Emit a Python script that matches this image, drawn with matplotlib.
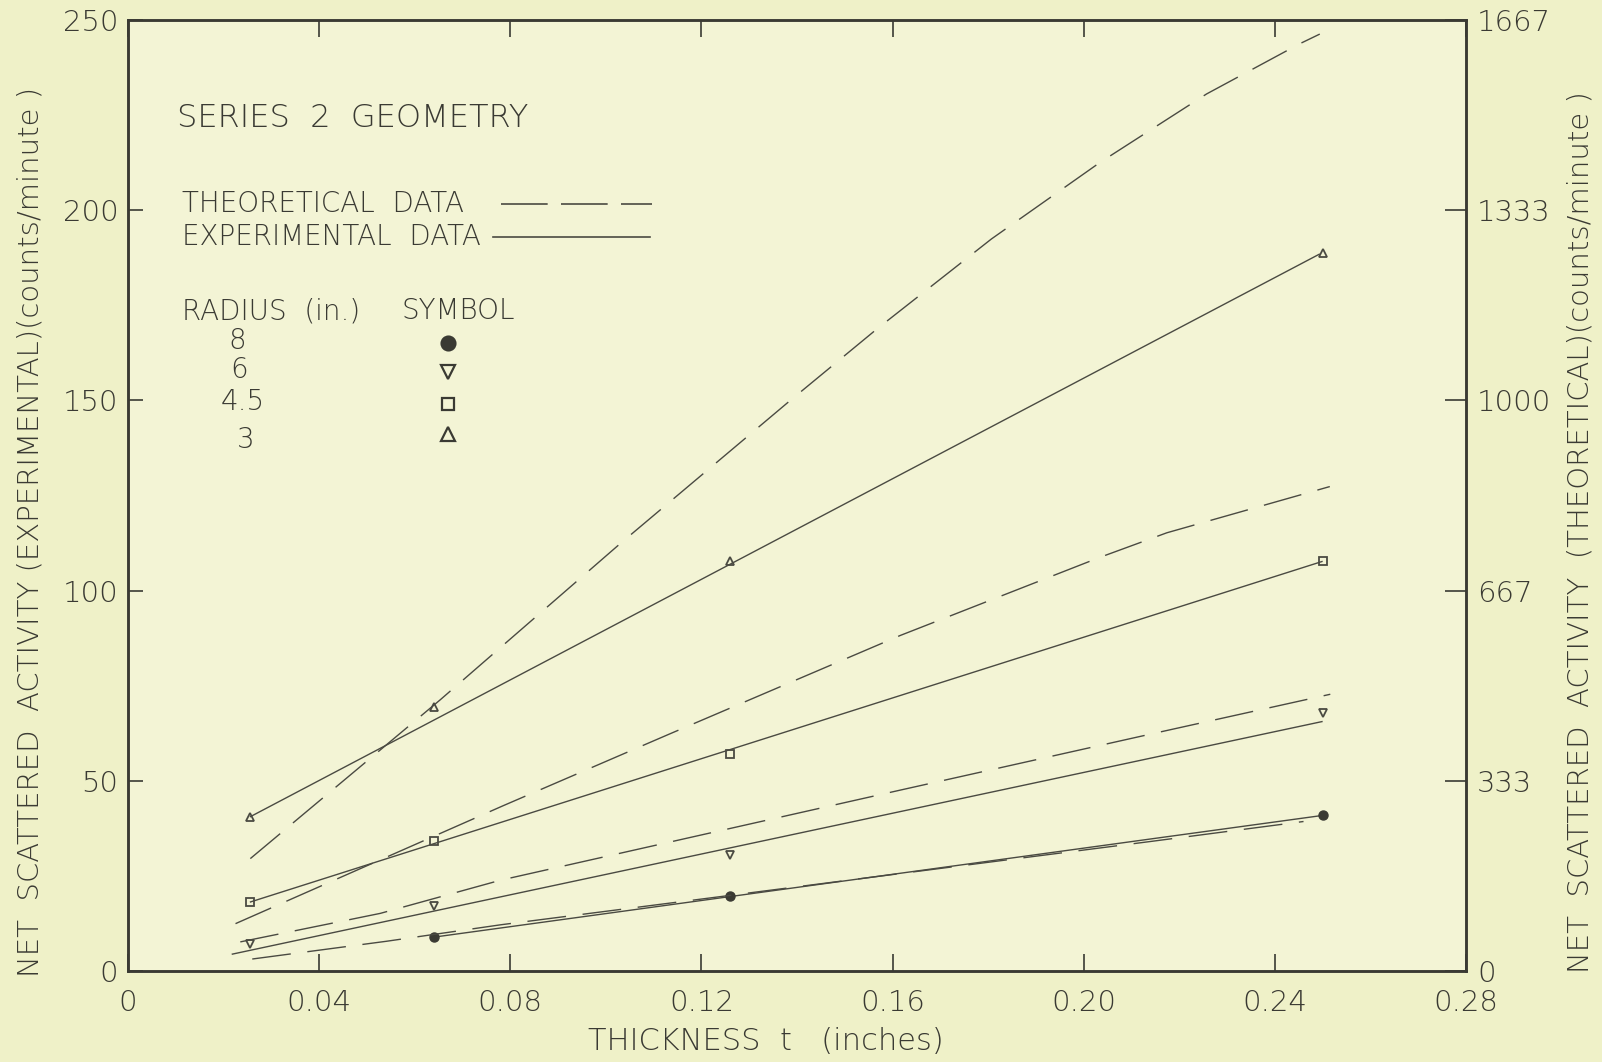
import matplotlib
matplotlib.use('Agg')
import matplotlib.pyplot as plt
import numpy as np

# ---------------- data ----------------
thickness = [0.0255, 0.064, 0.126, 0.25]          # inches
exp_r3 = [40.5, 69.4, 107.9, 188.8]                # counts/min (experimental)
exp_r45 = [18.1, 34.3, 57.1, 107.7]
exp_r6 = [7.0, 17.2, 30.5, 67.7]
exp_r8 = [np.nan, 8.9, 19.8, 40.9]

# experimental fitted straight lines (end points)
fit_r3_x, fit_r3_y = [0.0255, 0.2494], [40.5, 188.5]
fit_r45_x, fit_r45_y = [0.0255, 0.25], [18.1, 107.7]
fit_r6_x, fit_r6_y = [0.0217, 0.25], [4.4, 65.6]
fit_r8_x, fit_r8_y = [0.064, 0.25], [8.9, 40.9]

# theoretical curves (counts/min, right axis)
th_r3_x = [0.0256, 0.0653, 0.1030, 0.1386, 0.1567, 0.1807, 0.2034, 0.2257, 0.2452, 0.2494]
th_r3_y = [197, 475, 749, 1000, 1125, 1283, 1417, 1537, 1625, 1642]
th_r45_x = [0.0225, 0.0786, 0.1135, 0.1616, 0.2034, 0.2174, 0.2515]
th_r45_y = [83, 290, 416, 588, 725, 768, 849]
th_r6_x = [0.0235, 0.0528, 0.0779, 0.1616, 0.2139, 0.2516]
th_r6_y = [51, 101, 159, 317, 415, 485]
th_r8_x = [0.026, 0.054, 0.078, 0.214, 0.246]
th_r8_y = [21, 52, 81, 227, 262]

x_ticks = [0, 0.04, 0.08, 0.12, 0.16, 0.20, 0.24, 0.28]
x_ticklabels = ["0", "0.04", "0.08", "0.12", "0.16", "0.20", "0.24", "0.28"]
y_ticks = [0, 50, 100, 150, 200, 250]
y_ticklabels = ["0", "50", "100", "150", "200", "250"]
y2_ticks = [0, 1000 / 3, 2000 / 3, 1000, 4000 / 3, 5000 / 3]
y2_ticklabels = ["0", "333", "667", "1000", "1333", "1667"]

radius_labels = ["8", "6", "4.5", "3"]

# ---------------- style ----------------
INK = '#3a3a33'
LINE = '#4a4a42'
BG = '#f3f4d5'
FIG_BG = '#eff1c8'
FONT = 'DejaVu Sans'
W = 200  # extra light

plt.rcParams['font.family'] = [FONT]
plt.rcParams['font.weight'] = W

fig = plt.figure(figsize=(16.02, 10.62), dpi=100, facecolor=FIG_BG)
ax = fig.add_axes([128 / 1602, 91 / 1062, 1338 / 1602, 951 / 1062])
ax.set_facecolor(BG)
ax2 = ax.twinx()
ax2.patch.set_visible(False)

lw = 1.0
# experimental fit lines
for fx, fy in [(fit_r3_x, fit_r3_y), (fit_r45_x, fit_r45_y),
               (fit_r6_x, fit_r6_y), (fit_r8_x, fit_r8_y)]:
    ax.plot(fx, fy, color=LINE, lw=lw, solid_capstyle='butt', zorder=3)

# experimental markers
ms = 6
ax.plot(thickness, exp_r3, linestyle='none', marker='^', ms=ms, mfc='none',
        mec=LINE, mew=1.3, zorder=4)
ax.plot(thickness, exp_r45, linestyle='none', marker='s', ms=ms - 0.5, mfc='none',
        mec=LINE, mew=1.3, zorder=4)
ax.plot(thickness, exp_r6, linestyle='none', marker='v', ms=ms, mfc='none',
        mec=LINE, mew=1.3, zorder=4)
ax.plot(thickness, exp_r8, linestyle='none', marker='o', ms=ms + 0.5, mfc=INK,
        mec=INK, zorder=4)

# theoretical dashed curves on right axis
for tx, ty in [(th_r3_x, th_r3_y), (th_r45_x, th_r45_y),
               (th_r6_x, th_r6_y), (th_r8_x, th_r8_y)]:
    ax2.plot(tx, ty, color=LINE, lw=lw, dashes=(28, 12), dash_capstyle='butt', zorder=3)

# axes limits / ticks
ax.set_xlim(0, 0.28)
ax.set_ylim(0, 250)
ax2.set_ylim(0, 5000 / 3)

ax.set_xticks(x_ticks)
ax.set_xticklabels(x_ticklabels)
ax.set_yticks(y_ticks)
ax.set_yticklabels(y_ticklabels)
ax2.set_yticks(y2_ticks)
ax2.set_yticklabels(y2_ticklabels)

tick_fs = 21
ax.tick_params(axis='x', which='major', direction='in', length=12, width=1.2,
               colors=INK, labelsize=tick_fs, pad=13, top=True, labeltop=False)
ax.tick_params(axis='y', which='major', direction='in', length=11, width=1.2,
               colors=INK, labelsize=tick_fs, pad=7, right=False)
ax2.tick_params(axis='y', which='major', direction='in', length=15, width=1.2,
                colors=INK, labelsize=tick_fs, pad=8)
for lab in ax.get_xticklabels() + ax.get_yticklabels() + ax2.get_yticklabels():
    lab.set_fontweight(W)

for a in (ax, ax2):
    for s in a.spines.values():
        s.set_color(INK)
        s.set_linewidth(1.8)

# axis labels
fig.text(766 / 1602, 1 - 1042 / 1062, "THICKNESS  t   (inches)",
         ha='center', va='center', fontsize=22, color=INK, fontweight=W)
fig.text(31 / 1602, 1 - 532 / 1062,
         "NET  SCATTERED  ACTIVITY (EXPERIMENTAL)(counts/minute )",
         rotation=90, ha='center', va='center', fontsize=21, color=INK, fontweight=W)
fig.text(1581 / 1602, 1 - 532 / 1062,
         "NET  SCATTERED  ACTIVITY  (THEORETICAL)(counts/minute )",
         rotation=90, ha='center', va='center', fontsize=21, color=INK, fontweight=W)

# annotation / legend block (axes fraction)
T = ax.transAxes
ax.text(0.0366, 0.897, "SERIES  2  GEOMETRY", transform=T, fontsize=23,
        color=INK, ha='left', va='center', fontweight=W)
ax.text(0.0405, 0.8067, "THEORETICAL  DATA", transform=T, fontsize=20,
        color=INK, ha='left', va='center', fontweight=W)
ax.text(0.0405, 0.7723, "EXPERIMENTAL  DATA", transform=T, fontsize=20,
        color=INK, ha='left', va='center', fontweight=W)
ax.plot([0.2786, 0.3916], [0.8067, 0.8067], transform=T, color=LINE, lw=1.2,
        dashes=(28, 8), dash_capstyle='butt')
ax.plot([0.2725, 0.3900], [0.7723, 0.7723], transform=T, color=LINE, lw=1.2)

ax.text(0.0405, 0.6939, "RADIUS  (in.)", transform=T, fontsize=20,
        color=INK, ha='left', va='center', fontweight=W)
ax.text(0.2046, 0.6939, "SYMBOL", transform=T, fontsize=20,
        color=INK, ha='left', va='center', fontweight=W)

rad_x = [0.0817, 0.0832, 0.0855, 0.0878]
rad_y = [0.6627, 0.6316, 0.5983, 0.5585]
sym_y = [0.6606, 0.6294, 0.5961, 0.5650]
sym_m = ['o', 'v', 's', '^']
sym_fill = [INK, 'none', 'none', 'none']
for lab, xx, yy, sy, m, fc in zip(radius_labels, rad_x, rad_y, sym_y, sym_m, sym_fill):
    ax.text(xx, yy, lab, transform=T, fontsize=20, color=INK, ha='center',
            va='center', fontweight=W)
    ax.plot([0.2389], [sy], transform=T, marker=m, ms=10 if m != 's' else 9,
            mfc=fc, mec=INK, mew=1.6, linestyle='none')

fig.savefig('out.png', dpi=100, facecolor=FIG_BG)
